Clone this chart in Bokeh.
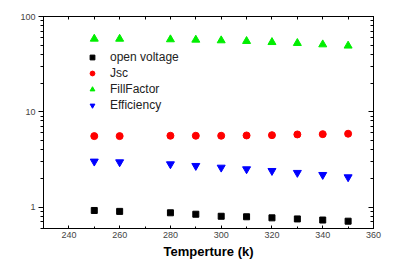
from bokeh.plotting import figure
from bokeh.models import (LinearAxis, LogAxis, LogTicker, SingleIntervalTicker, Legend,
                          LegendItem, CustomJSTickFormatter)
from bokeh.embed import file_html
from bokeh.resources import INLINE

temps = [250, 260, 280, 290, 300, 310, 320, 330, 340, 350]
open_voltage = [0.92, 0.90, 0.87, 0.84, 0.80, 0.79, 0.77, 0.75, 0.73, 0.71]
jsc = [5.55, 5.55, 5.6, 5.6, 5.6, 5.64, 5.68, 5.78, 5.82, 5.88]
fill_factor = [58.3, 58.2, 57.4, 56.9, 56.0, 55.1, 53.7, 52.5, 50.8, 49.3]
efficiency = [3.01, 2.96, 2.82, 2.71, 2.60, 2.50, 2.40, 2.29, 2.18, 2.06]
series_names = ["open voltage", "Jsc", "FillFactor", "Efficiency"]

FONT = "Liberation Sans"

p = figure(width=397, height=261, x_range=(230, 360), y_range=(0.595, 100),
           y_axis_type="log", output_backend="svg", toolbar_location=None,
           min_border_left=43, min_border_right=24, min_border_top=16, min_border_bottom=33)
p.grid.visible = False
p.outline_line_color = "black"
p.background_fill_color = "white"
p.border_fill_color = "white"

r1 = p.scatter(temps, open_voltage, marker="square", size=6, color="black")
r2 = p.scatter(temps, jsc, marker="circle", size=7, color="red")
r3 = p.scatter(temps, fill_factor, marker="triangle", size=8, color="#00ee00")
r4 = p.scatter(temps, efficiency, marker="inverted_triangle", size=8, color="blue")

# bottom axis
xa = p.xaxis[0]
xa.ticker = SingleIntervalTicker(interval=20, num_minor_ticks=2)
xa.major_tick_in = 3
xa.major_tick_out = 0
xa.minor_tick_in = 2
xa.minor_tick_out = 0
xa.major_label_text_font = FONT
xa.major_label_text_font_size = "9px"
xa.major_label_text_color = "#444444"
xa.major_label_standoff = 3
xa.axis_label = "Temperture (k)"
xa.axis_label_text_font = FONT
xa.axis_label_text_font_size = "13px"
xa.axis_label_text_font_style = "bold"
xa.axis_label_text_color = "black"
xa.axis_label_standoff = 3
xa.axis_line_color = "black"

# left axis
ya = p.yaxis[0]
ya.ticker = LogTicker(num_minor_ticks=10)
ya.formatter = CustomJSTickFormatter(code="return String(Math.round(tick));")
ya.major_tick_in = 0
ya.major_tick_out = 5
ya.minor_tick_in = 0
ya.minor_tick_out = 3
ya.major_label_text_font = FONT
ya.major_label_text_font_size = "9px"
ya.major_label_text_color = "#444444"
ya.major_label_standoff = 3
ya.axis_line_color = "black"

# top axis (ticks only)
top = LinearAxis(ticker=SingleIntervalTicker(interval=10, num_minor_ticks=0),
                 major_tick_in=3, major_tick_out=0, minor_tick_in=0, minor_tick_out=0,
                 major_label_text_font_size="1px", major_label_text_alpha=0,
                 major_label_standoff=0, axis_line_color="black")
p.add_layout(top, "above")

# right axis (ticks only)
right = LogAxis(ticker=LogTicker(num_minor_ticks=10),
                major_tick_in=5, major_tick_out=0, minor_tick_in=3, minor_tick_out=0,
                major_label_text_font_size="1px", major_label_text_alpha=0,
                major_label_standoff=0, axis_line_color="black")
p.add_layout(right, "right")

legend = Legend(items=[LegendItem(label=series_names[0], renderers=[r1]),
                       LegendItem(label=series_names[1], renderers=[r2]),
                       LegendItem(label=series_names[2], renderers=[r3]),
                       LegendItem(label=series_names[3], renderers=[r4])],
                location=(42, 116), padding=0, margin=0, spacing=2,
                glyph_width=14, glyph_height=12, label_height=12, label_standoff=11,
                label_text_font=FONT, label_text_font_size="12px", label_text_color="#222222",
                border_line_color=None, background_fill_alpha=0)
p.add_layout(legend, "center")

open("out.html", "w").write(file_html(p, INLINE))
